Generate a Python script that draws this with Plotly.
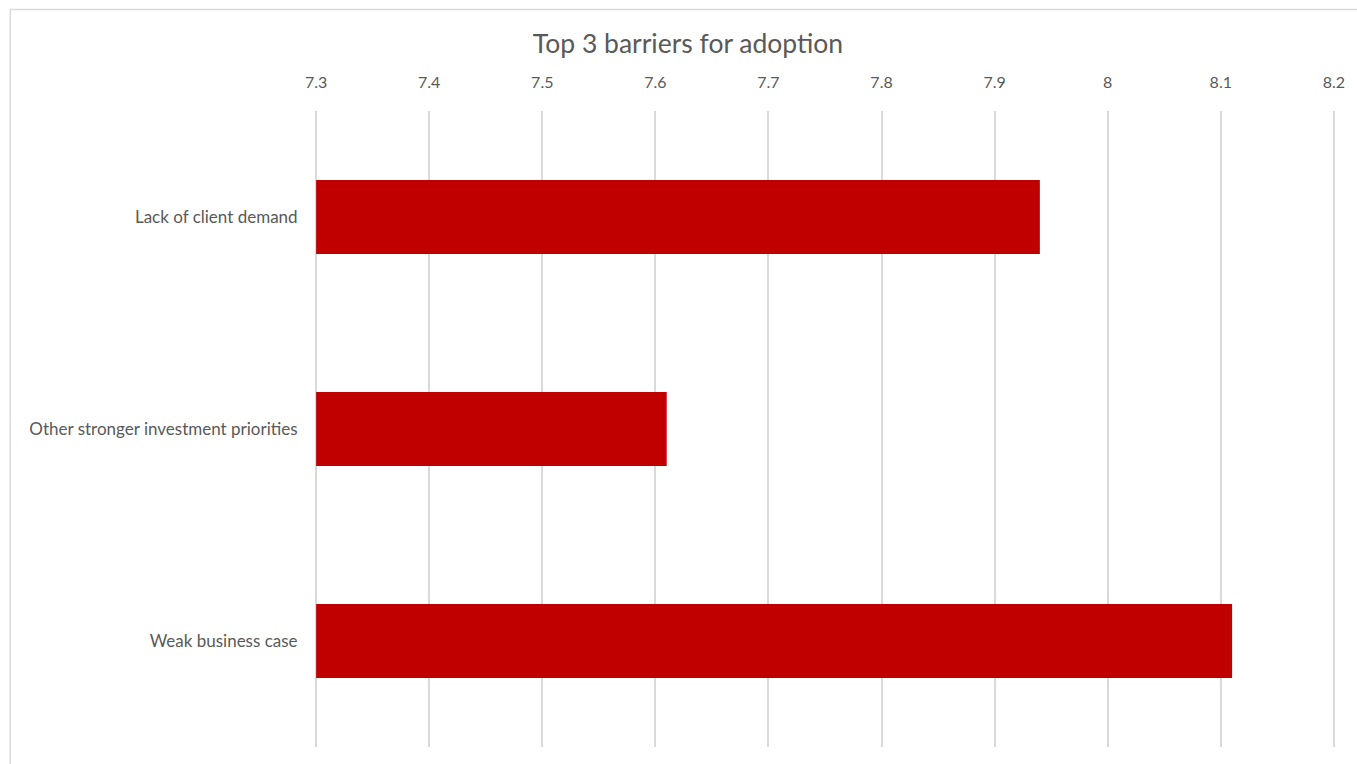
import plotly.graph_objects as go

# Barrier categories and their average scores
categories = ["Lack of client demand", "Other stronger investment priorities", "Weak business case"]
scores = [7.94, 7.61, 8.11]
tick_values = [7.3, 7.4, 7.5, 7.6, 7.7, 7.8, 7.9, 8.0, 8.1, 8.2]
tick_labels = ["7.3", "7.4", "7.5", "7.6", "7.7", "7.8", "7.9", "8", "8.1", "8.2"]

AXIS_MIN, AXIS_MAX = 7.3, 8.2
PAD = 0.001  # keeps the end gridlines inside the plot area

W, H = 1357, 764
L, R, T, B = 314.5, 21.5, 111, 17
pw, ph = W - L - R, H - T - B

fig = go.Figure(
    go.Bar(
        x=[s - AXIS_MIN for s in scores],
        y=categories,
        base=AXIS_MIN,
        orientation="h",
        marker=dict(color="#c00000", line=dict(width=0)),
    )
)

fig.update_layout(
    width=W,
    height=H,
    margin=dict(l=L, r=R, t=T, b=B, pad=0),
    paper_bgcolor="white",
    plot_bgcolor="white",
    showlegend=False,
    bargap=0.65,
    font=dict(family="Lato, Carlito, Calibri, sans-serif", color="#595959"),
    title=dict(
        text="Top 3 barriers for adoption",
        x=688 / W,
        xref="container",
        xanchor="center",
        y=1 - 44 / H,
        yanchor="middle",
        font=dict(size=26.5, color="#595959"),
    ),
    xaxis=dict(
        side="top",
        range=[AXIS_MIN - PAD, AXIS_MAX + PAD],
        tickvals=tick_values,
        ticktext=tick_labels,
        showgrid=True,
        gridcolor="#d9d9d9",
        gridwidth=1.6,
        zeroline=False,
        showline=False,
        ticks="outside",
        ticklen=16,
        tickcolor="rgba(0,0,0,0)",
        tickfont=dict(size=16, color="#595959"),
    ),
    yaxis=dict(
        categoryorder="array",
        categoryarray=categories,
        autorange="reversed",
        showgrid=False,
        zeroline=False,
        showline=False,
        ticks="outside",
        ticklen=13,
        tickcolor="rgba(0,0,0,0)",
        tickfont=dict(size=17, color="#595959"),
    ),
    shapes=[
        dict(
            type="rect",
            xref="paper",
            yref="paper",
            x0=(9.5 - L) / pw,
            x1=(W + 5 - L) / pw,
            y0=-(B + 5) / ph,
            y1=(H - B - 9.5) / ph,
            line=dict(color="#d9d9d9", width=1.5),
            fillcolor="rgba(0,0,0,0)",
            layer="below",
        )
    ],
)

fig.write_html("out.html")
